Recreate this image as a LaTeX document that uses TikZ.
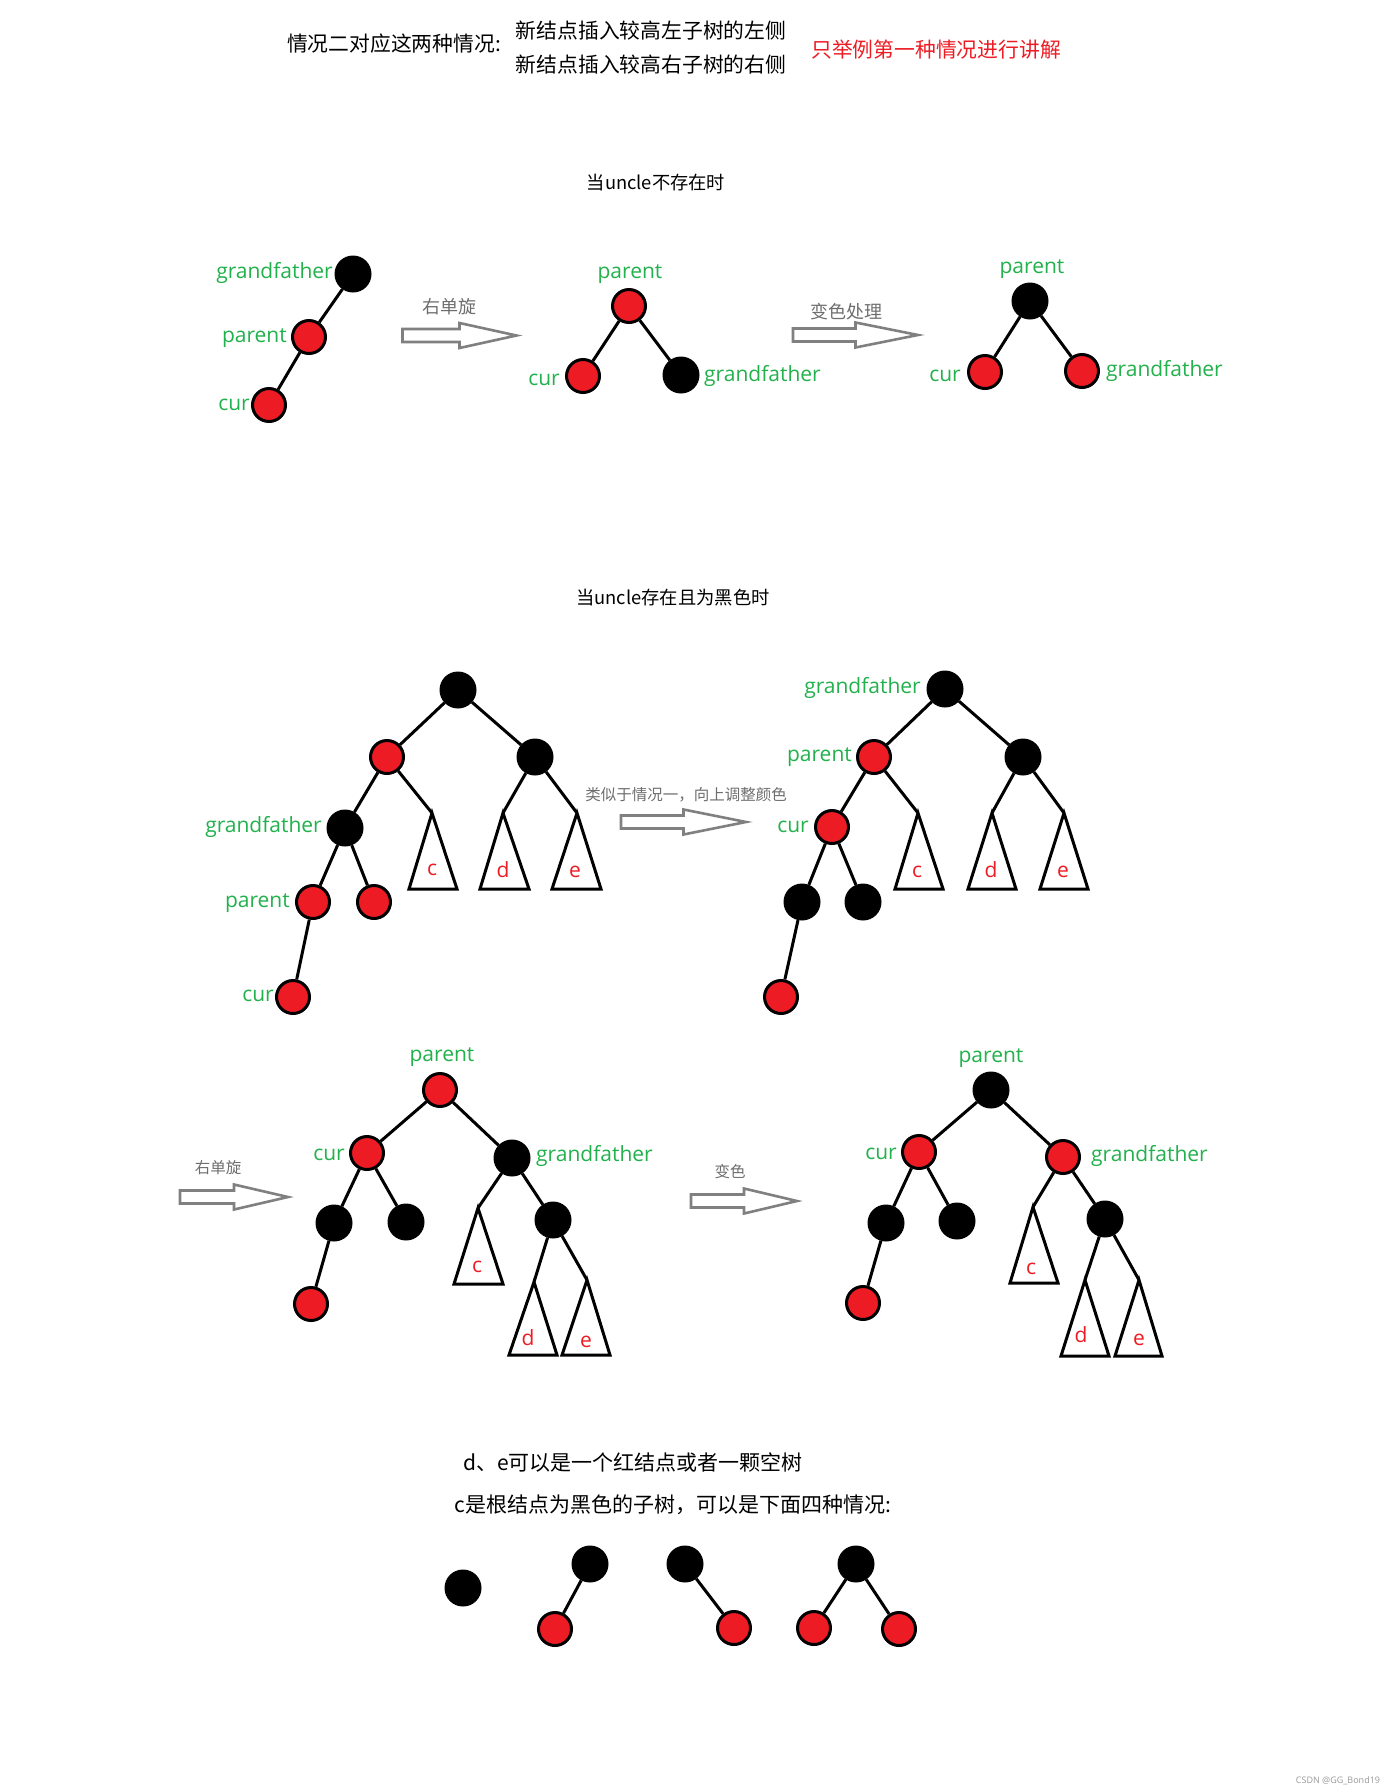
\documentclass[tikz,border=0pt]{standalone}
\usepackage{fontspec}
\setmainfont{Open Sans}
\newfontfamily\cjk{Noto Sans CJK SC}
\definecolor{pred}{RGB}{237,28,36}
\definecolor{pgreen}{RGB}{34,177,76}
\definecolor{agray}{RGB}{128,128,128}
\definecolor{tgray}{RGB}{110,110,110}
\tikzset{
  rn/.style={circle, fill=pred, draw=black, line width=3pt, minimum size=33pt, inner sep=0pt},
  bn/.style={circle, fill=black, draw=black, line width=1pt, minimum size=36pt, inner sep=0pt},
  link/.style={line width=3pt, black},
  tri/.style={draw=black, fill=white, line width=3pt, line join=miter},
  glab/.style={text=pgreen, inner sep=0pt, yshift=-3pt, font=\fontsize{21}{25}\selectfont},
  tlab/.style={text=pred, inner sep=0pt, anchor=base, font=\fontsize{21}{25}\selectfont},
  alab/.style={text=tgray, inner sep=0pt, font=\cjk\fontsize{18}{22}\selectfont},
  slab/.style={text=tgray, inner sep=0pt, font=\cjk\fontsize{15.5}{19}\selectfont},
  ttl/.style={text=black, inner sep=0pt, font=\cjk\fontsize{20.8}{25}\selectfont},
  hdl/.style={text=black, inner sep=0pt, font=\cjk\fontsize{18.3}{22}\selectfont},
  pics/harrow/.style={code={
    \draw[line width=2.6pt, draw=agray, fill=white, line join=miter]
      (0,-6.5) -- (#1*0.5,-6.5) -- (#1*0.5,-12.5) -- (#1,0) -- (#1*0.5,12.5)
      -- (#1*0.5,6.5) -- (0,6.5) -- cycle;
  }}
}
\begin{document}
\begin{tikzpicture}[x=1pt, y=-1pt]
\fill[white] (0,0) rectangle (1400,1792);
\useasboundingbox (0,0) rectangle (1400,1792);

% ---------- title ----------
\node[ttl] (t0) at (394,44) {情况二对应这两种情况:};
\node[ttl] (t1) at (651,30.5) {新结点插入较高左子树的左侧};
\node[ttl] (t2) at (651,64.5) {新结点插入较高右子树的右侧};
\node[ttl, text=pred] (t3) at (936,49.5) {只举例第一种情况进行讲解};

% ---------- case: uncle absent ----------
\node[hdl] (h1) at (656,183) {当uncle不存在时};

% tree 1
\node[bn] (g1) at (353,274) {};
\node[rn] (p1) at (309,337) {};
\node[rn] (c1) at (269,405) {};
\draw[link] (g1) -- (p1);
\draw[link] (p1) -- (c1);
\node[glab, anchor=east] (g1l) at (333,270) {grandfather};
\node[glab, anchor=east] (p1l) at (287,335) {parent};
\node[glab, anchor=east] (c1l) at (250,402) {cur};

\pic at (402.5,335.5) {harrow=114};
\node[alab] (a1l) at (449,307) {右单旋};

% tree 2
\node[rn] (p2) at (629,306) {};
\node[rn] (c2) at (583,376) {};
\node[bn] (g2) at (681,375) {};
\draw[link] (p2) -- (c2);
\draw[link] (p2) -- (g2);
\node[glab] (p2l) at (630,271) {parent};
\node[glab] (c2l) at (544,377) {cur};
\node[glab, anchor=west] (g2l) at (704,373) {grandfather};

\pic at (793,335) {harrow=125};
\node[alab] (a2l) at (846,312) {变色处理};

% tree 3
\node[bn] (p3) at (1030,301) {};
\node[rn] (c3) at (985,372) {};
\node[rn] (g3) at (1082,371) {};
\draw[link] (p3) -- (c3);
\draw[link] (p3) -- (g3);
\node[glab] (p3l) at (1032,266) {parent};
\node[glab] (c3l) at (945,373) {cur};
\node[glab, anchor=west] (g3l) at (1106,368) {grandfather};

% ---------- case: uncle black ----------
\node[hdl] (h2) at (673,598) {当uncle存在且为黑色时};

% middle-left tree
\coordinate (m1cA) at (432,813);
\coordinate (m1dA) at (503,813);
\coordinate (m1eA) at (577,813);
\draw[tri] (m1cA) -- (409,889) -- (457,889) -- cycle;
\draw[tri] (m1dA) -- (480,889) -- (529,889) -- cycle;
\draw[tri] (m1eA) -- (552,889) -- (601,889) -- cycle;
\node[tlab] (m1cl) at (432,875) {c};
\node[tlab] (m1dl) at (503,877) {d};
\node[tlab] (m1el) at (575,877) {e};
\node[bn] (m1r) at (458,690) {};
\node[rn] (m1a) at (387,757) {};
\node[bn] (m1u) at (535,757) {};
\node[bn] (m1g) at (345,828) {};
\node[rn] (m1p) at (313,902) {};
\node[rn] (m1s) at (374,902) {};
\node[rn] (m1c) at (293,997) {};
\draw[link] (m1r) -- (m1a);
\draw[link] (m1r) -- (m1u);
\draw[link] (m1a) -- (m1g);
\draw[link] (m1a) -- (m1cA);
\draw[link] (m1u) -- (m1dA);
\draw[link] (m1u) -- (m1eA);
\draw[link] (m1g) -- (m1p);
\draw[link] (m1g) -- (m1s);
\draw[link] (m1p) -- (m1c);
\node[glab, anchor=east] (m1gl) at (322,824) {grandfather};
\node[glab, anchor=east] (m1pl) at (290,900) {parent};
\node[glab, anchor=east] (m1cl2) at (274,993) {cur};

\pic at (621,822) {harrow=125};
\node[slab] (a3l) at (686,795) {类似于情况一，向上调整颜色};

% middle-right tree
\coordinate (m2cA) at (918,813);
\coordinate (m2dA) at (992,813);
\coordinate (m2eA) at (1064,813);
\draw[tri] (m2cA) -- (895,889) -- (943,889) -- cycle;
\draw[tri] (m2dA) -- (968,889) -- (1016,889) -- cycle;
\draw[tri] (m2eA) -- (1040,889) -- (1088,889) -- cycle;
\node[tlab] (m2cl) at (917,877) {c};
\node[tlab] (m2dl) at (991,877) {d};
\node[tlab] (m2el) at (1063,877) {e};
\node[bn] (m2g) at (945,689) {};
\node[rn] (m2p) at (874,757) {};
\node[bn] (m2u) at (1023,757) {};
\node[rn] (m2c) at (832,827) {};
\node[bn] (m2l) at (802,902) {};
\node[bn] (m2s) at (863,902) {};
\node[rn] (m2b) at (781,997) {};
\draw[link] (m2g) -- (m2p);
\draw[link] (m2g) -- (m2u);
\draw[link] (m2p) -- (m2c);
\draw[link] (m2p) -- (m2cA);
\draw[link] (m2u) -- (m2dA);
\draw[link] (m2u) -- (m2eA);
\draw[link] (m2c) -- (m2l);
\draw[link] (m2c) -- (m2s);
\draw[link] (m2l) -- (m2b);
\node[glab, anchor=east] (m2gl) at (921,685) {grandfather};
\node[glab, anchor=east] (m2pl) at (852,754) {parent};
\node[glab, anchor=east] (m2cl2) at (809,824) {cur};

% bottom-left tree
\pic at (180,1197) {harrow=108};
\node[slab] (a4l) at (218,1168) {右单旋};
\coordinate (b1cA) at (478,1208);
\coordinate (b1dA) at (534,1282);
\coordinate (b1eA) at (587,1280);
\draw[tri] (b1cA) -- (454,1284) -- (503,1284) -- cycle;
\draw[tri] (b1dA) -- (509,1355) -- (557,1355) -- cycle;
\draw[tri] (b1eA) -- (562,1355) -- (610,1355) -- cycle;
\node[tlab] (b1cl) at (477,1272) {c};
\node[tlab] (b1dl) at (528,1345) {d};
\node[tlab] (b1el) at (586,1347) {e};
\node[rn] (b1p) at (440,1090) {};
\node[rn] (b1c) at (367,1153) {};
\node[bn] (b1g) at (512,1158) {};
\node[bn] (b1l) at (334,1223) {};
\node[bn] (b1s) at (406,1222) {};
\node[rn] (b1b) at (311,1304) {};
\node[bn] (b1u) at (553,1220) {};
\draw[link] (b1p) -- (b1c);
\draw[link] (b1p) -- (b1g);
\draw[link] (b1c) -- (b1l);
\draw[link] (b1c) -- (b1s);
\draw[link] (b1l) -- (b1b);
\draw[link] (b1g) -- (b1cA);
\draw[link] (b1g) -- (b1u);
\draw[link] (b1u) -- (b1dA);
\draw[link] (b1u) -- (b1eA);
\node[glab] (b1pl) at (442,1054) {parent};
\node[glab, anchor=east] (b1cl2) at (345,1152) {cur};
\node[glab, anchor=west] (b1gl) at (536,1153) {grandfather};

% bottom-right tree
\pic at (691,1201) {harrow=106};
\node[slab] (a5l) at (730,1172) {变色};
\coordinate (b2cA) at (1033,1207);
\coordinate (b2dA) at (1085,1280);
\coordinate (b2eA) at (1139,1280);
\draw[tri] (b2cA) -- (1010,1283) -- (1058,1283) -- cycle;
\draw[tri] (b2dA) -- (1061,1356) -- (1109,1356) -- cycle;
\draw[tri] (b2eA) -- (1115,1356) -- (1162,1356) -- cycle;
\node[tlab] (b2cl) at (1031,1274) {c};
\node[tlab] (b2dl) at (1081,1342) {d};
\node[tlab] (b2el) at (1139,1345) {e};
\node[bn] (b2p) at (991,1090) {};
\node[rn] (b2c) at (919,1152) {};
\node[rn] (b2g) at (1063,1157) {};
\node[bn] (b2l) at (886,1223) {};
\node[bn] (b2s) at (957,1221) {};
\node[rn] (b2b) at (863,1303) {};
\node[bn] (b2u) at (1105,1219) {};
\draw[link] (b2p) -- (b2c);
\draw[link] (b2p) -- (b2g);
\draw[link] (b2c) -- (b2l);
\draw[link] (b2c) -- (b2s);
\draw[link] (b2l) -- (b2b);
\draw[link] (b2g) -- (b2cA);
\draw[link] (b2g) -- (b2u);
\draw[link] (b2u) -- (b2dA);
\draw[link] (b2u) -- (b2eA);
\node[glab] (b2pl) at (991,1055) {parent};
\node[glab, anchor=east] (b2cl2) at (897,1151) {cur};
\node[glab, anchor=west] (b2gl) at (1091,1153) {grandfather};

% ---------- notes ----------
\node[ttl, font=\cjk\fontsize{21}{25}\selectfont] (n1) at (633,1463) {d、e可以是一个红结点或者一颗空树};
\node[ttl, font=\cjk\fontsize{21}{25}\selectfont] (n2) at (673,1505) {c是根结点为黑色的子树，可以是下面四种情况:};

% small trees
\node[bn] (s1) at (463,1588) {};
\node[bn] (s2) at (590,1564) {};
\node[rn] (s2r) at (555,1629) {};
\draw[link] (s2) -- (s2r);
\node[bn] (s3) at (685,1564) {};
\node[rn] (s3r) at (734,1628) {};
\draw[link] (s3) -- (s3r);
\node[bn] (s4) at (856,1564) {};
\node[rn] (s4l) at (814,1628) {};
\node[rn] (s4r) at (899,1629) {};
\draw[link] (s4) -- (s4l);
\draw[link] (s4) -- (s4r);

% watermark
\node[text=black!40, inner sep=0pt, font=\fontsize{9}{11}\selectfont] (wm) at (1338,1781) {CSDN @GG\_Bond19};
\end{tikzpicture}
\end{document}
